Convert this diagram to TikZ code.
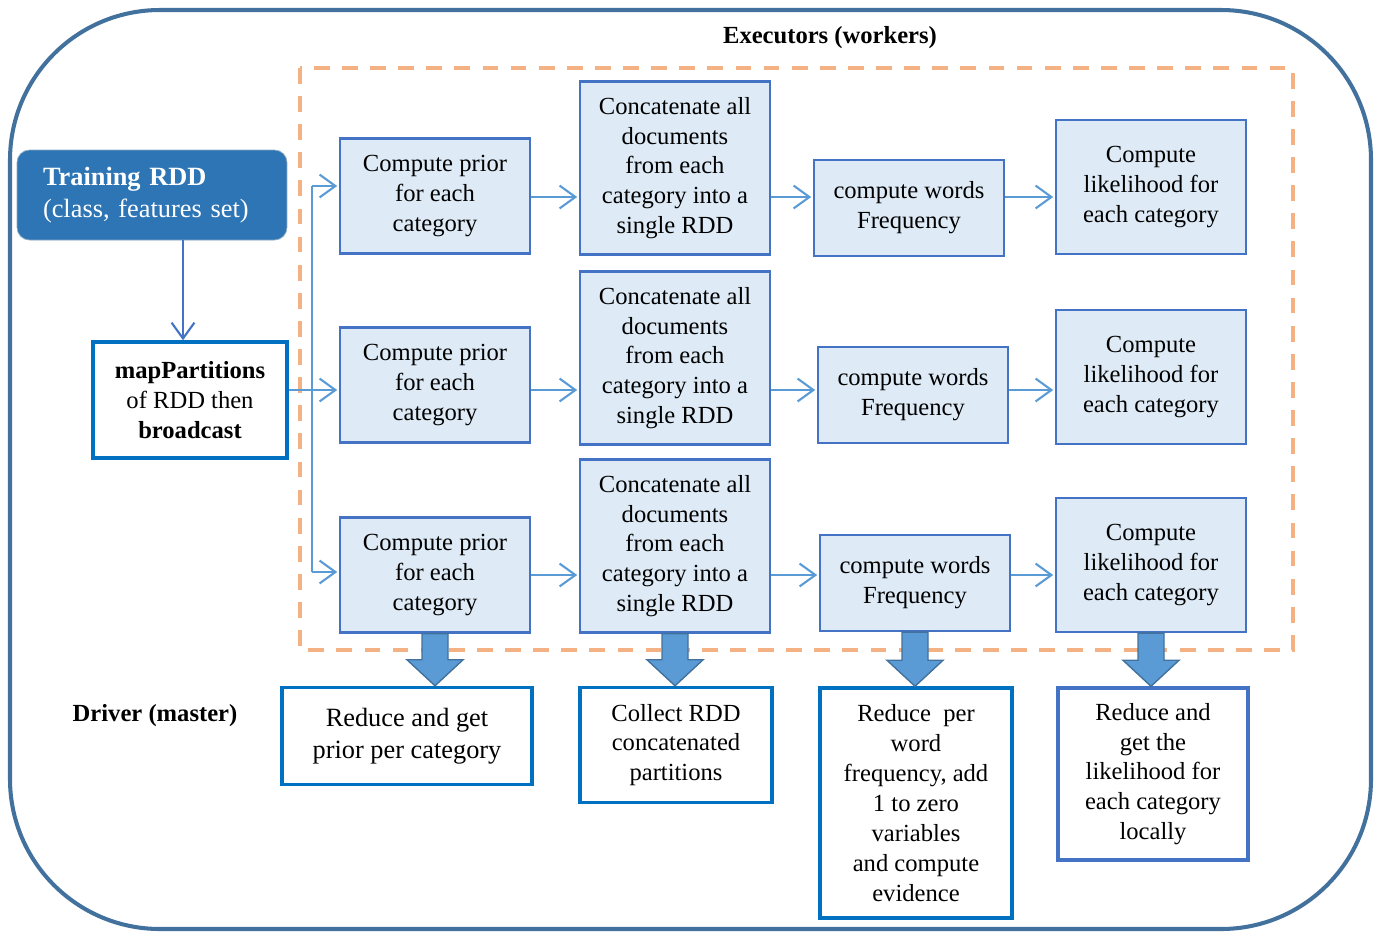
\documentclass[tikz,border=0pt]{standalone}
\usepackage{fontspec}
\setmainfont{Liberation Serif}
\usetikzlibrary{positioning,calc,arrows.meta}

\definecolor{frameblue}{HTML}{41719C}
\definecolor{boxblue}{HTML}{4472C4}
\definecolor{boxfill}{HTML}{DEEBF7}
\definecolor{flowblue}{HTML}{5B9BD5}
\definecolor{resblue}{HTML}{0070C0}
\definecolor{rddblue}{HTML}{2E75B6}
\definecolor{execorange}{HTML}{F4B183}

% fat block arrow from a task box down to a driver box
\newcommand{\fatarrow}[2]{%
  \coordinate (tip) at (#1.south |- #2.north);
  \draw[fat] ($(#1.south)+(-13,0)$) -- ($(tip)+(-13,-26)$) -- ($(tip)+(-28,-26)$)
    -- (tip) -- ($(tip)+(28,-26)$) -- ($(tip)+(13,-26)$) -- ($(#1.south)+(13,0)$) -- cycle;}

\begin{document}
\begin{tikzpicture}[x=0.02cm,y=-0.02cm,>={Straight Barb[length=9pt,width=13pt]},
    font=\fontsize{14}{17}\selectfont,
    task/.style={draw=boxblue,fill=boxfill,line width=1.2pt,align=center,minimum width=3.8cm,inner sep=2pt},
    result/.style={draw=resblue,line width=2pt,align=center,minimum width=3.84cm,inner sep=2pt},
    flow/.style={->,draw=flowblue,line width=1.2pt,shorten >=1pt},
    fat/.style={fill=flowblue,draw=frameblue,line width=0.8pt}]
  \useasboundingbox (0,0) rectangle (1380,931);

  % frames
  \draw[frameblue,line width=2.3pt,rounded corners=3cm] (10,10) rectangle (1371,929);
  \draw[execorange,line width=1.8pt,dash pattern=on 9pt off 7pt] (300,68) rectangle (1293,650);
  \node[font=\fontsize{14}{17}\selectfont\bfseries] (exec) at (830,38) {Executors (workers)};
  \node[font=\fontsize{14}{17}\selectfont\bfseries] (driver) at (155,716) {Driver (master)};

  % input
  \node[draw=frameblue!60,fill=rddblue,text=white,rounded corners=0.25cm,align=left,
    minimum width=5.4cm,minimum height=1.8cm,text width=4.36cm,
    font=\fontsize{15}{18}\selectfont] (train) at (152,195)
    {\rule{0pt}{10pt}\textbf{Training RDD}\\(class, features set)};
  \node[result,minimum width=3.88cm,minimum height=2.32cm] (map) at (190,400)
    {\textbf{mapPartitions}\\of RDD then\\\textbf{broadcast}};

  % executor tasks
  \node[task,minimum height=2.3cm] (prior1) at (435,196) {Compute prior\\for each\\category};
  \node[task,minimum height=3.46cm] (concat1) at (675,168) {Concatenate all\\documents\\from each\\category into a\\single RDD};
  \node[task,minimum height=1.92cm] (freq1) at (909,208) {compute words\\Frequency};
  \node[task,minimum height=2.68cm] (like1) at (1151,187) {Compute\\likelihood for\\each category};

  \node[task,minimum height=2.3cm] (prior2) at (435,385) {Compute prior\\for each\\category};
  \node[task,minimum height=3.46cm] (concat2) at (675,358) {Concatenate all\\documents\\from each\\category into a\\single RDD};
  \node[task,minimum height=1.92cm] (freq2) at (913,395) {compute words\\Frequency};
  \node[task,minimum height=2.68cm] (like2) at (1151,377) {Compute\\likelihood for\\each category};

  \node[task,minimum height=2.3cm] (prior3) at (435,575) {Compute prior\\for each\\category};
  \node[task,minimum height=3.46cm] (concat3) at (675,546) {Concatenate all\\documents\\from each\\category into a\\single RDD};
  \node[task,minimum height=1.92cm] (freq3) at (915,583) {compute words\\Frequency};
  \node[task,minimum height=2.68cm] (like3) at (1151,565) {Compute\\likelihood for\\each category};

  % driver results
  \node[result,minimum width=5cm,minimum height=1.94cm,font=\fontsize{15}{18}\selectfont] (reduce1) at (407,736)
    {Reduce and get\\prior per category};
  \node[result,minimum height=2.3cm] (collect) at (676,745) {Collect RDD\\concatenated\\partitions};
  \node[result,minimum height=4.6cm] (reduce2) at (916,803)
    {Reduce~ per\\word\\frequency, add\\1 to zero\\variables\\and compute\\evidence};
  \node[result,draw=boxblue,minimum width=3.8cm,minimum height=3.44cm] (reduce3) at (1153,774)
    {Reduce and\\get the\\likelihood for\\each category\\locally};

  % connectors
  \coordinate (feed) at ($(map.north)+(-7,0)$);
  \draw[->,boxblue,line width=1.2pt] (train.south -| feed) -- (feed);
  \coordinate (row1) at (0,197);
  \coordinate (row2) at (0,390);
  \coordinate (row3) at (0,575);
  \coordinate (fork1) at (312,186);
  \coordinate (fork3) at (312,572);
  \draw[flowblue,line width=1.2pt] (fork1) -- (fork3);
  \draw[flow] (map.east |- row2) -- (prior2.west |- row2);
  \draw[flow] (fork1) -- (prior1.west |- fork1);
  \draw[flow] (fork3) -- (prior3.west |- fork3);
  \foreach \r in {1,2,3} {
    \draw[flow] (prior\r.east |- row\r) -- (concat\r.west |- row\r);
    \draw[flow] (concat\r.east |- row\r) -- (freq\r.west |- row\r);
    \draw[flow] (freq\r.east |- row\r) -- (like\r.west |- row\r);
  }

  \fatarrow{prior3}{reduce1}
  \fatarrow{concat3}{collect}
  \fatarrow{freq3}{reduce2}
  \fatarrow{like3}{reduce3}
\end{tikzpicture}
\end{document}
